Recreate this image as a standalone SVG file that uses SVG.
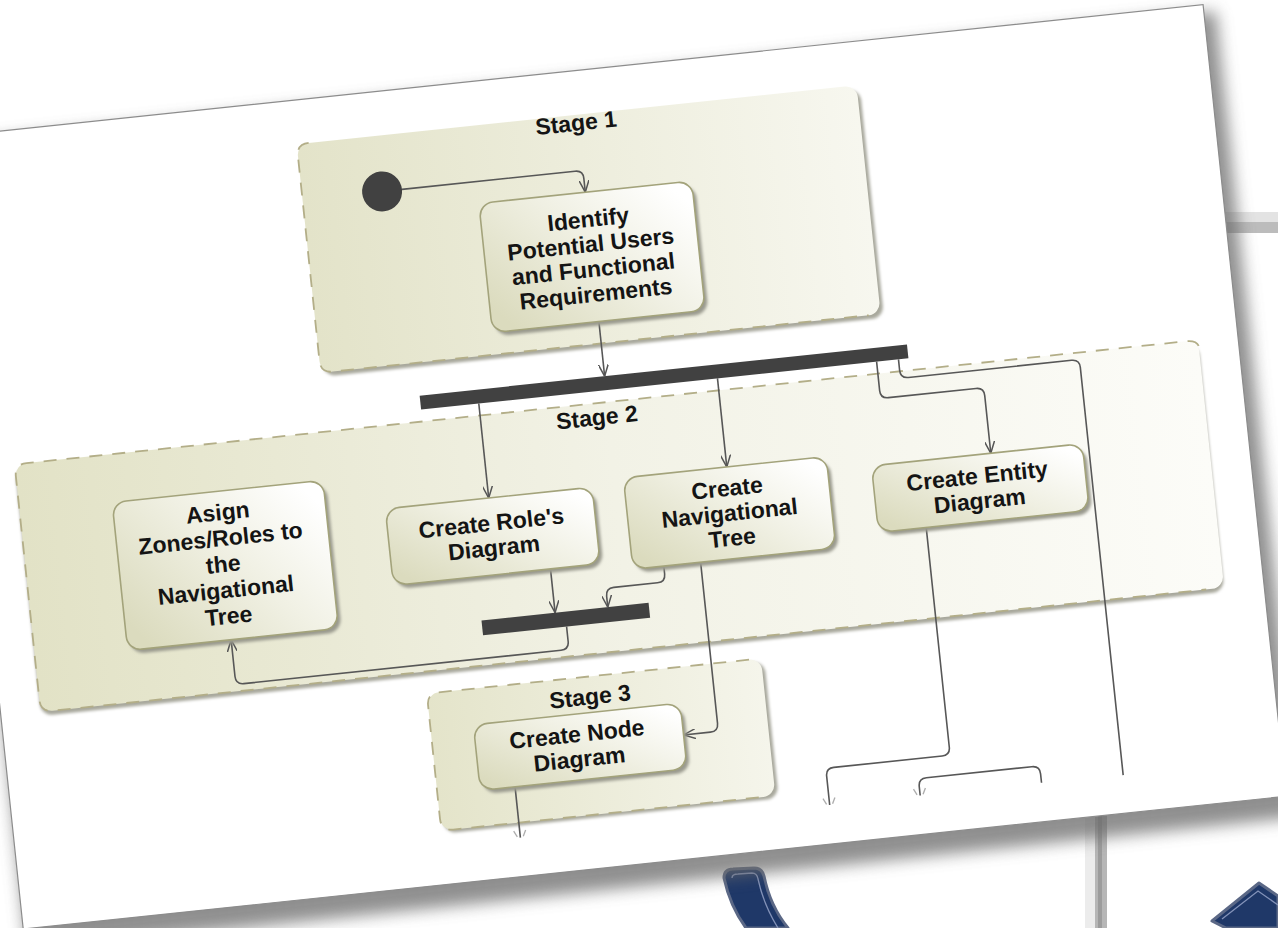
<svg xmlns="http://www.w3.org/2000/svg" width="1278" height="928" viewBox="0 0 1278 928">
  <defs>
    <style>
      .lbl{font-family:"Liberation Sans",Arial,Helvetica,sans-serif;font-weight:bold;font-size:23px;fill:#141414;text-anchor:middle}
      .act{fill:url(#actFill);stroke:#a3a37b;stroke-width:1.6}
      .act-sh{fill:#9a9a8e;filter:url(#blur2)}
      .part-sh{fill:#a8a89c;filter:url(#blur2)}
      .dash{fill:none;stroke:#b3ae88;stroke-width:1.8;stroke-dasharray:13 10}
      .flow{fill:none;stroke:#575757;stroke-width:1.6}
      .bar{fill:#414141}
      .frag{stroke:#6a6a6a;stroke-width:1.3;opacity:.55}
      .navy{fill:#1f3868;stroke:#5b6886;stroke-width:3;stroke-linejoin:round}
      .navy-in{fill:none;stroke:#8392b8;stroke-width:1.3}
    </style>
    <linearGradient id="actFill" x1="0" y1="0.8" x2="1" y2="0.2">
      <stop offset="0" stop-color="#dbdbbe"/>
      <stop offset="0.55" stop-color="#f0f0e3"/>
      <stop offset="1" stop-color="#ffffff"/>
    </linearGradient>
    <linearGradient id="p1Fill" x1="0" y1="0" x2="1" y2="0">
      <stop offset="0" stop-color="#e3e3c9"/>
      <stop offset="1" stop-color="#f7f7ef"/>
    </linearGradient>
    <linearGradient id="p2Fill" x1="0" y1="0" x2="1" y2="0">
      <stop offset="0" stop-color="#e2e2c6"/>
      <stop offset="0.5" stop-color="#f2f2e6"/>
      <stop offset="1" stop-color="#fcfcf8"/>
    </linearGradient>
    <linearGradient id="p3Fill" x1="0" y1="0" x2="1" y2="0">
      <stop offset="0" stop-color="#e4e4ca"/>
      <stop offset="1" stop-color="#f5f5eb"/>
    </linearGradient>
    <filter id="blur2" x="-10%" y="-10%" width="120%" height="130%">
      <feGaussianBlur stdDeviation="1.6"/>
    </filter>
    <filter id="cardBlur" x="-5%" y="-5%" width="110%" height="115%">
      <feGaussianBlur stdDeviation="8"/>
    </filter>
    <marker id="open" viewBox="0 0 12 10" refX="12" refY="5" markerWidth="12" markerHeight="10" markerUnits="userSpaceOnUse" orient="auto">
      <path d="M0,0 L12,5 L0,10" fill="none" stroke="#555" stroke-width="1.5"/>
    </marker>
  </defs>

  <rect width="1278" height="928" fill="#ffffff"/>

  <!-- backdrop behind the paper -->
  <g id="backdrop">
    <rect x="1190" y="212" width="88" height="10" fill="#e3e3e3"/>
    <rect x="1190" y="222" width="88" height="11" fill="#bcbcbc"/>
    <rect x="1085" y="760" width="10" height="168" fill="#ececec"/>
    <rect x="1095" y="760" width="12" height="168" fill="#b6b6b6"/>
    <rect x="1098" y="760" width="4" height="168" fill="#9c9c9c"/>
    <path class="navy" d="M 724 878 Q 724 869 733 869 L 754 868 Q 762 868 764 876 Q 770 906 788 928 L 746 928 Q 730 906 724 878 Z"/>
    <path class="navy-in" d="M 732 878 Q 732 874 738 874 L 752 873 Q 757 873 758 879 Q 764 906 778 928"/>
    <polygon class="navy" points="1212,921 1259,883 1278,896 1278,928 1226,928"/>
    <polyline class="navy-in" points="1222,919 1258,891 1278,905"/>
  </g>

  <!-- tilted paper with the activity diagram -->
  <g id="sheet" transform="rotate(-6 640 464)">
    <rect x="-20" y="74" width="1280" height="810" fill="#6a6a6a" opacity="0.75" filter="url(#cardBlur)"/>
    <rect x="-22" y="66" width="1270" height="796" fill="#ffffff" stroke="#8c8c8c" stroke-width="1.2"/>

    <g id="stage-1">
      <rect class="part-sh" x="335" y="114" width="563" height="230" rx="12"/>
      <rect x="332" y="110" width="563" height="230" rx="12" fill="url(#p1Fill)"/>
      <path class="dash" d="M 344 110 Q 332 110 332 122 V 328 Q 332 340 344 340 H 883"/>
      <text class="lbl" x="612" y="126">Stage 1</text>
    </g>

    <g id="stage-2">
      <rect class="part-sh" x="18" y="403" width="1190" height="249" rx="12"/>
      <rect x="18" y="399" width="1190" height="249" rx="12" fill="url(#p2Fill)"/>
      <path class="dash" d="M 1208 405 Q 1206 399 1196 399 H 30 Q 18 399 18 411 V 636 Q 18 648 30 648 H 1190"/>
      <text class="lbl" x="602" y="421">Stage 2</text>
    </g>

    <g id="stage-3">
      <rect class="part-sh" x="407" y="673" width="336" height="138" rx="12"/>
      <rect x="404" y="670" width="336" height="138" rx="12" fill="url(#p3Fill)"/>
      <path class="dash" d="M 728 670 H 416 Q 404 670 404 682 V 796 Q 404 808 416 808 H 728"/>
      <text class="lbl" x="566" y="698">Stage 3</text>
    </g>

    <g id="connectors">
      <path class="flow" marker-end="url(#open)" d="M 432 166 H 606 Q 614 166 614 174 V 188"/>
      <path class="flow" marker-end="url(#open)" d="M 614 318 V 373"/>
      <path class="flow" marker-end="url(#open)" d="M 486 387 V 482"/>
      <path class="flow" marker-end="url(#open)" d="M 726 387 V 476"/>
      <path class="flow" marker-end="url(#open)" d="M 886 387 V 416 Q 886 424 894 424 H 982 Q 990 424 990 432 V 490"/>
      <path class="flow" d="M 908 387 V 398 Q 908 406 916 406 H 1080 Q 1088 406 1088 414 V 824"/>
      <path class="flow" marker-end="url(#open)" d="M 540 559 V 603"/>
      <path class="flow" marker-end="url(#open)" d="M 653 568 V 576 Q 653 584 645 584 H 601 Q 593 584 593 592 V 603"/>
      <path class="flow" marker-end="url(#open)" d="M 550 618 V 633 Q 550 641 542 641 H 223 Q 215 641 215 633 V 596"/>
      <path class="flow" marker-end="url(#open)" d="M 690 568 V 730 Q 690 738 682 738 H 655"/>
      <path class="flow" d="M 482 772 V 823"/>
      <path class="flow" d="M 918 557 V 778 Q 918 786 910 786 H 801 Q 793 786 793 794 V 823"/>
      <path class="flow" d="M 1006 823 V 814 Q 1006 806 998 806 H 892 Q 884 806 884 814 V 823"/>
      <g class="frag">
        <line x1="476" y1="816" x2="479" y2="822"/><line x1="488" y1="816" x2="485" y2="822"/>
        <line x1="787" y1="816" x2="790" y2="822"/><line x1="799" y1="816" x2="796" y2="822"/>
        <line x1="878" y1="816" x2="881" y2="822"/><line x1="890" y1="816" x2="887" y2="822"/>
      </g>
    </g>

    <g id="start">
      <circle cx="412" cy="166" r="20" fill="#414141"/>
    </g>

    <g id="identify">
      <rect class="act-sh" x="510" y="192" width="214" height="130" rx="14"/>
      <rect class="act" x="507" y="188" width="214" height="130" rx="14"/>
      <text class="lbl" x="614" y="223">Identify</text>
      <text class="lbl" x="614" y="248">Potential Users</text>
      <text class="lbl" x="614" y="273">and Functional</text>
      <text class="lbl" x="614" y="298">Requirements</text>
    </g>

    <g id="fork">
      <rect class="bar" x="428" y="373" width="490" height="14"/>
    </g>

    <g id="assign-zones">
      <rect class="act-sh" x="114" y="451" width="212" height="149" rx="14"/>
      <rect class="act" x="111" y="447" width="212" height="149" rx="14"/>
      <text class="lbl" x="215" y="476">Asign</text>
      <text class="lbl" x="215" y="502">Zones/Roles to</text>
      <text class="lbl" x="215" y="528">the</text>
      <text class="lbl" x="215" y="554">Navigational</text>
      <text class="lbl" x="215" y="580">Tree</text>
    </g>

    <g id="roles-diagram">
      <rect class="act-sh" x="385" y="486" width="208" height="77" rx="14"/>
      <rect class="act" x="382" y="482" width="208" height="77" rx="14"/>
      <text class="lbl" x="486" y="515">Create Role's</text>
      <text class="lbl" x="486" y="540">Diagram</text>
    </g>

    <g id="nav-tree">
      <rect class="act-sh" x="625" y="480" width="204" height="92" rx="14"/>
      <rect class="act" x="622" y="476" width="204" height="92" rx="14"/>
      <text class="lbl" x="724" y="505">Create</text>
      <text class="lbl" x="724" y="530">Navigational</text>
      <text class="lbl" x="724" y="555">Tree</text>
    </g>

    <g id="entity-diagram">
      <rect class="act-sh" x="873" y="494" width="212" height="67" rx="14"/>
      <rect class="act" x="870" y="490" width="212" height="67" rx="14"/>
      <text class="lbl" x="974" y="519">Create Entity</text>
      <text class="lbl" x="974" y="544">Diagram</text>
    </g>

    <g id="join">
      <rect class="bar" x="466" y="603" width="168" height="15"/>
    </g>

    <g id="node-diagram">
      <rect class="act-sh" x="450" y="710" width="208" height="66" rx="14"/>
      <rect class="act" x="447" y="706" width="208" height="66" rx="14"/>
      <text class="lbl" x="549" y="734">Create Node</text>
      <text class="lbl" x="549" y="759">Diagram</text>
    </g>
  </g>
</svg>
